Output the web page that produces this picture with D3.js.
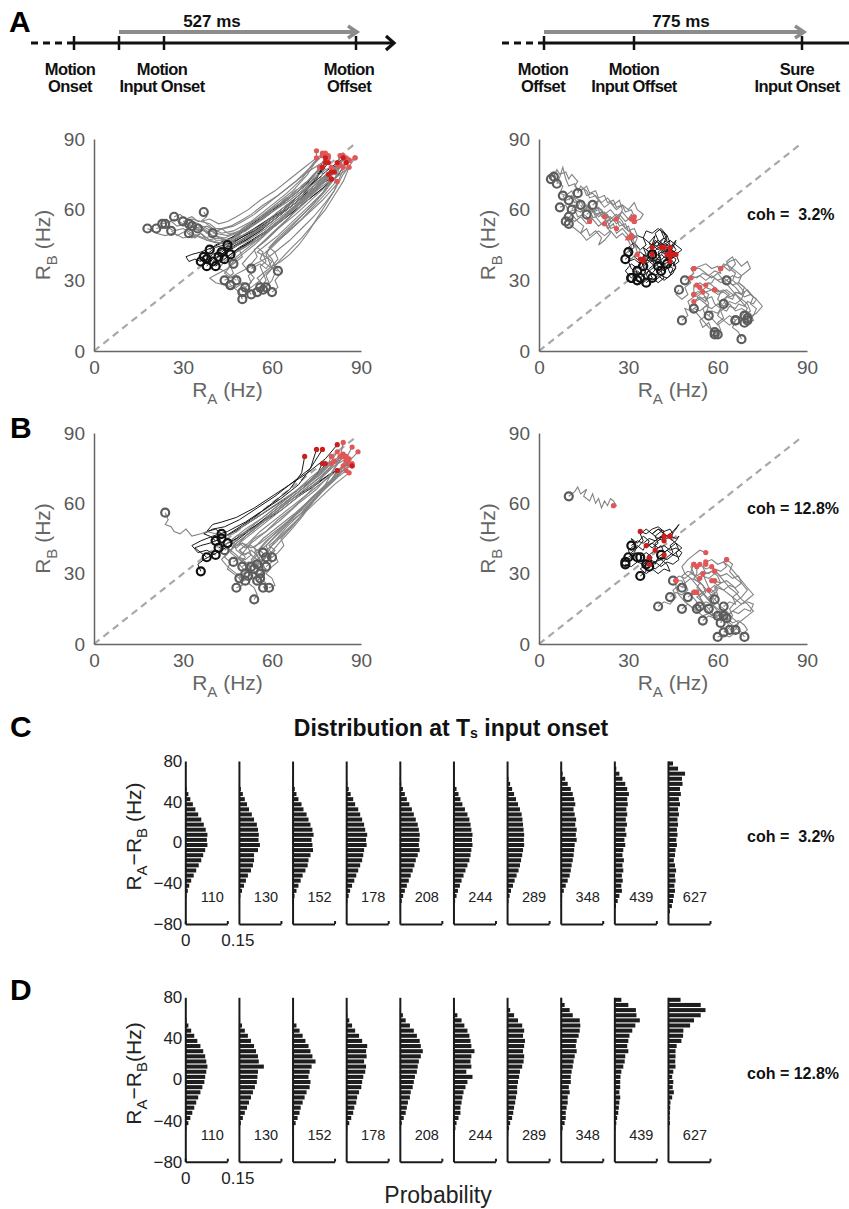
<!DOCTYPE html>
<html>
<head>
<meta charset="utf-8">
<title>Trajectories and R_A - R_B distributions</title>
<script src="https://cdn.jsdelivr.net/npm/d3@7"></script>
<style>
body { margin: 0; background: #fff; }
</style>
</head>
<body>
<svg id="fig" width="849" height="1209"></svg>
<script>
var FONT = '"Liberation Sans", Arial, Helvetica, sans-serif';

// trajectories, "RA,RB RA,RB ..." in Hz. first point = start (circle), last = end (red dot)
var aLeftGray = [
  "18,52 21,50 24,49 27,50 30,48 34,49 38,47 42,48 46,47 51,51 57,56 63,62 69,68 74,75 78,80",
  "21,52 24,53 27,51 30,52 33,50 37,48 41,49 45,46 50,49 56,53 62,59 68,65 74,71 80,76 82,79",
  "23,54 26,55 28,53 31,54 34,52 37,51 40,49 44,48 48,50 54,54 60,60 66,66 72,72 77,78 79,82",
  "24,54 27,56 30,54 32,56 35,54 38,52 41,50 45,49 49,51 55,56 61,62 67,68 72,75 75,81 75,85",
  "26,51 28,49 31,51 33,48 36,50 39,47 42,46 46,45 51,48 57,53 63,59 69,65 75,71 81,77 84,82",
  "27,57 29,58 31,56 33,57 35,55 37,55 40,52 43,50 47,51 53,55 59,61 65,67 70,73 74,80 77,84",
  "32,54 34,52 36,53 38,50 40,51 42,48 45,47 48,46 53,49 59,54 65,60 71,66 77,72 83,78 86,81",
  "32,50 34,48 36,50 38,47 41,46 44,46 47,44 52,47 58,52 64,58 70,64 76,70 80,74 83,83",
  "33,53 35,51 37,52 39,50 41,47 44,47 47,48 50,52 56,57 62,62 68,67 73,72 78,77 80,78",
  "37,59 38,57 36,55 39,54 41,52 43,52 45,50 49,50 54,54 60,59 66,64 71,69 75,74 76,78",
  "46,28 45,31 47,33 46,36 48,38 47,41 49,43 52,45 56,49 62,55 68,62 74,69 80,76 85,82",
  "48,30 46,32 44,34 42,35 44,38 46,40 48,42 51,44 55,48 61,54 67,60 73,66 79,72 82,79",
  "50,22 49,25 47,27 44,28 41,29 39,31 42,33 45,35 47,38 50,41 54,45 60,52 66,59 72,66 78,73 80,76",
  "51,27 53,29 52,32 54,34 53,37 55,40 54,43 57,46 62,52 68,58 74,65 80,72 85,77 86,81",
  "53,24 51,27 49,29 48,32 46,31 44,33 46,36 48,40 52,44 57,49 63,56 70,64 76,71 82,77 88,82",
  "55,25 57,28 55,31 57,33 56,36 58,38 57,41 60,44 64,49 70,56 76,64 81,71 83,83",
  "57,26 59,29 58,32 60,35 59,38 58,41 60,45 65,50 71,57 77,64 82,71 85,80",
  "58,27 60,30 61,33 60,36 62,39 61,42 59,44 62,48 67,54 73,61 78,68 82,75 84,83",
  "60,25 62,27 61,30 63,33 61,36 60,39 58,42 61,46 66,52 72,60 77,67 80,73",
  "62,34 60,35 58,37 56,39 57,42 55,44 58,47 63,53 69,61 74,68 77,75 78,84",
  "46,28 48,27 50,29 52,28 54,31 52,34 50,37 52,40 55,44 60,50 66,57 72,64 77,71 81,76",
  "30,55 33,56 36,55 39,56 42,54 45,55 48,57 52,60 56,64 61,68 66,73 71,78 75,82",
  "35,52 38,53 41,51 44,52 47,53 50,55 54,58 58,62 63,67 68,72 73,78 77,83",
  "44,30 47,32 50,34 53,36 56,38 59,40 62,43 66,47 70,52 74,57 78,63 81,68 82,72",
  "50,25 53,27 56,30 58,33 61,36 63,39 66,43 70,48 74,54 78,60 81,66 84,72 86,78",
  "56,27 58,30 57,33 60,36 63,38 66,41 69,45 72,50 75,56 78,62 81,68 84,75 88,82",
  "40,50 43,52 46,53 49,55 53,58 57,62 62,66 67,71 72,76 77,80 79,83",
  "47,37 50,40 49,43 52,45 55,47 59,51 64,56 69,62 74,68 79,74 83,79",
  "53,35 56,37 58,35 60,38 58,40 55,42 58,45 62,49 67,55 72,61 77,67 81,73 84,78"
];
var aLeftBlack = [
  "36,38 34,39 32,38 31,40 33,41 36,42 40,44 45,47 51,52 58,58 65,64 71,70 76,75 79,80",
  "37,40 39,42 41,44 44,45 48,47 54,51 60,56 67,62 73,68 79,74 81,76",
  "38,36 40,39 43,41 46,43 50,46 56,51 63,58 70,65 76,71 80,73",
  "39,43 41,45 44,47 48,49 53,53 59,58 65,64 71,70 75,76 78,82",
  "40,38 42,40 45,43 49,46 54,50 60,55 66,61 72,67 78,72 80,76",
  "42,40 44,42 47,44 51,47 56,51 62,57 68,63 74,70 80,77 84,82",
  "43,42 45,44 48,46 52,49 57,53 63,59 69,66 74,72 77,78",
  "45,45 47,47 50,49 54,52 60,57 66,63 72,69 78,76 82,80",
  "46,41 48,43 51,45 55,48 60,52 66,58 72,64 77,69 80,73",
  "41,36 43,38 46,41 50,44 55,48 61,54 67,60 72,65 76,70 79,75",
  "38,39 40,41 43,43 47,46 52,50 58,55 64,60 70,66 75,73 78,80",
  "44,39 46,41 49,44 53,47 58,51 64,56 70,62 76,68 82,74 85,80"
];
var aRightGray = [
  "4,73 5,76 6,72 8,70 7,67 9,66 11,68 12,65 14,64 13,61 15,59 17,60 18,57 16,56 17,55",
  "6,71 7,74 8,78 9,73 10,70 12,71 13,68 15,69 16,66 18,67 20,64 19,61 21,60 22,58 22,57",
  "10,64 11,66 13,63 12,60 14,59 16,61 18,60 19,57 21,59 23,57 22,55 24,56 22,54",
  "13,67 14,70 16,68 17,65 19,66 21,63 23,65 25,62 27,64 28,60 27,57 26,56",
  "7,61 9,62 10,59 12,60 13,57 15,58 17,56 19,57 21,54 23,55 24,52 26,53 26,52",
  "10,57 12,55 14,57 16,54 18,56 20,53 22,55 23,52 25,54 26,50 28,52 30,49 29,47 31,49",
  "11,60 12,62 14,60 16,62 18,59 20,61 22,58 24,60 26,57 28,59 30,56 31,58 32,55",
  "10,54 12,52 14,50 16,52 17,49 19,51 21,48 20,45 22,47 24,50 23,53 25,56 27,58 29,55 31,57 31,56",
  "18,62 20,64 22,61 24,63 26,60 28,62 30,60 32,63 33,60 35,58 34,56 32,55",
  "9,55 11,58 13,55 15,53 14,50 16,47 18,49 20,51 22,49 24,51 26,48 28,50 30,47 31,44 29,41 31,39 33,42 32,46 31,49",
  "16,58 18,60 20,57 22,59 24,56 26,58 28,55 29,52 31,50 33,48 32,45 34,43 33,41",
  "5,74 6,77 7,75 9,76 10,73 11,75 13,72 12,70 14,68 16,70 17,67 19,68 20,65 22,66 23,63 25,64 26,61 28,62 29,59 31,60 32,57",
  "8,66 9,64 11,65 12,63 14,64 15,61 17,62 18,59 20,60 21,57 23,58 24,55 26,56 27,53 29,54 30,51 32,52 33,49 31,48",
  "14,62 15,60 17,61 19,58 21,59 22,56 24,57 26,54 27,55 29,52 30,53 31,50 30,48",
  "47,26 46,24 48,22 50,24 49,27 51,29 50,31 52,33 51,35 52,35",
  "48,13 50,15 49,18 51,17 53,19 52,21 54,23 56,21 57,24 55,26 53,25 52,24",
  "59,7 61,9 60,12 62,14 61,17 63,19 62,22 64,24 62,26 60,25 59,26",
  "60,7 58,9 57,12 55,10 54,13 56,15 55,18 57,20 56,23 54,22 52,21",
  "68,5 67,8 65,10 66,13 64,15 62,13 60,15 61,18 59,20 58,23 56,22 55,25",
  "69,15 71,17 70,20 68,22 69,25 67,28 65,30 66,33 64,35 63,38 65,40 66,37 64,34 62,36 61,35",
  "69,12 72,13 71,16 68,18 66,17 64,20 62,19 60,22 61,25 59,27 57,29 55,28 54,29 52,27 53,28",
  "70,13 72,15 73,18 71,20 72,23 70,26 68,24 66,27 64,29 62,31 60,30 58,32 56,30 54,32 52,31 51,31",
  "66,13 64,11 62,13 60,11 58,14 56,16 57,19 55,21 53,23 55,25 54,27 52,28 52,24",
  "70,14 73,16 75,19 73,22 71,24 69,27 67,29 68,32 66,34 64,36 62,37 61,35",
  "59,8 57,10 55,13 53,16 51,18 50,21 52,23 54,25 56,27 58,26 59,26",
  "66,13 68,15 70,18 68,21 66,24 64,27 62,30 60,33 58,31 56,33 54,35 52,35",
  "57,15 58,17 60,16 61,18 63,17 64,19 66,18 67,20 69,19 70,21 72,20 73,22 71,24 69,23 67,25 65,24 63,26 61,25 59,26",
  "62,20 63,23 65,22 66,25 68,24 69,27 67,29 65,28 63,30 61,29 59,31 58,29 56,28",
  "52,18 54,17 56,19 58,18 60,20 62,19 64,21 66,20 68,22 66,24 64,23 62,25 60,24 58,26 56,25 54,27",
  "49,30 51,32 53,31 55,33 57,32 59,34 61,33 60,36 58,35 56,37 54,36 52,35",
  "63,30 65,32 67,31 69,33 71,35 70,38 68,36 66,39 64,38 62,36 61,35"
];
var aRightBlack = [
  "29,39 31,41 30,44 32,46 34,43 36,45 35,48 37,46 39,49 38,45 40,43 42,45 41,44",
  "31,31 33,33 32,36 34,35 36,38 35,41 37,40 39,42 38,39 40,37 42,40 44,38 43,41 45,42 46,41",
  "31,31 29,34 31,37 33,35 34,38 32,40 34,42 36,40 38,43 37,46 39,44 41,46 42,44",
  "33,34 35,32 36,35 38,33 40,36 39,38 41,41 43,39 44,42 42,44 44,46 43,49 41,51 42,48 40,45 42,44",
  "34,31 36,33 35,36 37,38 39,36 41,38 40,41 42,43 44,40 46,43 45,45 44,43 45,41",
  "35,36 34,39 36,41 35,44 37,42 39,45 41,43 40,46 42,48 44,45 43,43 44,40",
  "36,29 38,31 37,34 39,36 38,39 40,38 42,35 44,37 43,40 45,38 46,35 44,33 43,36 44,38",
  "38,41 36,43 38,45 40,47 39,50 41,52 43,49 42,46 44,44 46,47 45,44 44,42",
  "40,36 42,34 44,36 43,39 45,41 44,44 42,42 40,44 38,41 36,39 35,38",
  "41,34 39,32 37,34 35,32 33,33 31,35 30,38 32,39 34,37 36,38 37,40 38,38 35,39",
  "43,37 45,35 44,32 42,30 40,32 38,30 36,32 37,35 39,37 41,39 40,42 42,44 44,44",
  "44,41 46,39 45,36 47,38 46,41 48,43 46,45 44,47 42,45 40,47 38,44 38,41",
  "38,31 40,29 42,31 41,34 43,36 41,38 39,40 41,42 43,41",
  "30,42 32,44 31,47 33,49 35,48 36,51 38,50 40,52 42,50 43,47 41,45 39,47 38,44",
  "33,30 35,29 37,31 39,30 41,32 43,31 45,33 46,36 44,38 42,37 40,39 38,38 36,40 34,39"
];
var bLeftGray = [
  "24,56 25,53 24,51 26,50 27,48 29,47 31,49 33,46 36,47 38,48 41,47 44,46 47,47 50,50 56,55 63,61 70,67 76,72 79,77 80,80",
  "48,24 50,25 49,28 51,31 49,34 51,37 49,40 52,43 56,48 62,54 68,60 74,66 80,72 86,78 89,82",
  "54,19 55,21 54,24 52,26 53,29 51,32 53,35 55,38 54,41 57,45 62,50 68,56 74,63 80,70 85,75 87,76",
  "57,24 58,26 56,28 57,31 55,33 57,36 59,39 58,42 61,46 66,52 72,58 77,65 82,71 85,78",
  "59,24 61,25 60,28 58,30 60,33 62,35 61,38 59,40 61,44 65,50 70,56 75,63 80,70 82,74",
  "56,28 54,30 52,32 50,35 48,37 46,39 47,42 50,45 55,50 61,56 67,62 73,68 79,74 83,80 84,86",
  "58,33 60,35 59,38 61,41 63,44 66,48 70,54 74,61 78,68 81,75 83,80",
  "60,37 62,39 64,42 63,45 66,49 70,55 74,61 79,68 84,74 86,79",
  "57,39 55,40 53,42 51,41 49,43 51,46 55,50 60,56 66,62 72,68 77,73 80,77",
  "58,37 56,35 54,37 52,39 50,38 48,40 47,43 50,47 55,52 61,58 67,64 73,71 79,77 84,81",
  "49,28 47,30 45,32 46,35 44,37 46,40 48,43 52,47 58,53 64,59 70,65 76,71 81,77 85,80",
  "51,30 53,32 51,35 49,37 51,40 53,43 57,47 63,53 69,60 75,66 80,73 84,80",
  "53,33 50,35 48,38 46,40 44,42 47,45 51,49 57,54 63,60 69,66 75,72 80,78 82,82",
  "54,32 55,34 53,36 55,39 57,42 60,46 65,52 71,58 76,64 81,70 85,74",
  "56,30 58,32 56,34 58,37 56,40 59,43 63,48 68,55 73,62 78,68 83,73 87,77",
  "51,27 49,29 47,31 45,33 43,36 45,39 48,42 52,46 58,52 64,58 70,64 76,70 81,76 85,79",
  "55,34 56,36 54,39 56,41 58,44 62,48 67,54 72,60 77,66 82,72 87,84",
  "50,33 52,35 54,33 56,35 55,38 53,40 51,38 49,40 51,42 53,41 56,43 60,47 65,52 70,58 75,64 80,70 84,76",
  "52,29 54,31 56,29 58,31 57,34 55,36 57,38 59,37 61,40 59,42 62,45 66,50 71,56 76,62 81,68 86,73",
  "47,35 49,37 51,36 53,38 52,41 50,43 48,42 46,44 48,46 52,48 57,52 62,57 67,63 72,68 77,74 81,78",
  "55,27 57,29 56,32 54,34 56,36 58,35 60,37 58,40 61,43 64,47 68,52 72,58 76,64 80,70 84,76 86,77",
  "44,40 46,42 48,41 50,43 52,42 54,45 58,48 62,53 67,58 72,64 76,70 80,76 83,80"
];
var bLeftBlack = [
  "36,31 35,34 37,36 40,38 43,40 47,43 52,48 58,54 64,60 70,66 75,72 77,77",
  "38,37 36,39 34,41 36,42 39,43 43,45 48,49 54,54 60,60 66,66 70,73 71,80",
  "41,38 38,40 35,39 33,42 36,44 40,46 45,48 51,52 57,57 63,62 69,68 73,75 75,83",
  "41,44 39,46 37,47 40,49 44,50 49,53 55,58 61,63 67,69 73,75 77,83",
  "42,41 45,43 48,45 52,48 57,52 63,57 69,63 75,68 80,73 82,74",
  "43,47 41,49 38,48 40,51 43,52 48,54 54,58 60,63 66,68 72,73 78,79 82,85",
  "45,43 47,44 50,47 55,51 61,56 67,62 73,67 79,72 85,76 87,76",
  "43,45 46,47 50,50 55,54 61,59 67,64 73,70 77,75 78,77"
];
var bRightGray = [
  "10,63 12,65 13,67 14,64 16,66 15,63 17,61 18,64 19,60 20,62 21,58 22,61 23,59 24,62 25,61 26,59 25,59",
  "40,16 42,18 44,17 46,20 45,23 47,25 49,24 48,27 46,27",
  "48,24 49,26 48,29 50,31 52,30 51,33 52,34",
  "48,15 50,17 52,15 53,18 51,21 53,23 52,22",
  "53,15 55,17 54,20 56,22 55,25 53,27 54,28",
  "54,16 56,18 58,17 57,20 59,22 57,24 56,27 55,30",
  "57,15 59,17 58,20 60,23 59,25 57,23",
  "59,19 60,21 59,24 61,26 60,29 58,31 56,30 55,33 56,34",
  "62,16 64,18 66,17 65,20 67,22 65,25 63,27 61,26 59,27",
  "61,9 62,11 60,13 58,12 56,15 55,18 53,20 55,22 53,24 54,26 52,28 53,30 53,33",
  "62,5 64,7 63,10 65,12 64,15 66,18 68,20 70,23 68,26 66,28 64,31 65,34 63,36",
  "64,6 66,8 68,10 70,12 72,14 70,17 68,19 66,22 64,24 62,27 60,30 58,33",
  "66,6 67,9 65,11 63,14 61,16 59,19 57,22 55,25 53,28 51,31 52,34",
  "69,3 68,5 66,7 64,9 62,12 60,14 58,17 56,20 54,23 52,23 52,22",
  "63,11 61,14 59,16 57,19 55,22 53,25 51,28 49,30 48,33 50,36 52,38 54,40 56,39",
  "60,12 57,13 55,12 53,14 51,16 49,18 47,21 46,24 46,27",
  "62,12 64,13 66,15 68,17 70,19 72,21 70,24 68,27 66,30 64,33 62,35 63,36",
  "45,27 47,29 49,28 51,30 53,29 55,31 57,30 59,32 61,31 63,33 62,35 60,34 58,36 56,35",
  "50,20 52,22 54,21 56,23 58,22 60,24 62,23 64,25 66,24 68,26 67,29 65,28 63,30 61,29 59,31",
  "55,10 57,12 59,11 61,13 63,12 65,14 67,13 69,15 71,14 72,17 70,18 68,17 66,19 64,21 62,23 60,25 58,27",
  "44,20 46,22 48,21 50,23 49,26 51,28 53,27 55,29 57,28 59,30 58,33 56,32 54,34",
  "60,3 62,4 64,3 66,5 68,4 70,6 69,8 67,10 65,9 63,11 61,10 59,12 57,15 55,18 53,22"
];
var bRightBlack = [
  "29,35 31,37 30,40 32,42 31,45 33,43 35,46 37,44 36,41 38,43 40,45 42,44 41,46 42,44",
  "30,37 32,39 33,42 35,40 36,43 38,41 40,43 39,46 41,48 43,46 45,48 47,51 46,49 44,46",
  "34,29 36,31 35,34 37,36 39,34 40,37 42,39 41,42 39,40 37,38 37,37",
  "33,37 31,39 33,41 35,44 34,47 36,49 38,47 40,49 42,48 41,45 39,43 39,40",
  "37,33 39,35 41,33 43,35 45,34 47,36 46,39 48,41 46,43 44,41 42,39 42,38",
  "36,34 34,32 36,30 38,32 40,30 42,32 44,31 43,34 41,36 39,35 37,34",
  "41,38 43,40 45,38 47,40 46,43 44,45 42,47 40,49 38,47 40,45 42,46",
  "34,37 36,39 38,37 37,34 39,32 41,34 43,37 45,39 44,42 46,44 47,46 46,45 44,46",
  "29,34 31,33 33,35 35,34 37,36 39,35 41,37 43,36 45,38 47,37 48,39 46,41 44,40 42,42 40,41 38,43 36,42",
  "31,42 33,44 35,43 37,45 39,44 41,46 43,45 45,47 44,49 42,48 40,50 38,49 36,47 34,48"
];
var scatterTicks = [0, 30, 60, 90];

// histograms: bin centres (Hz) and probability x 1000 per bin, top bin first
var histBins = [77.5, 72.5, 67.5, 62.5, 57.5, 52.5, 47.5, 42.5, 37.5, 32.5, 27.5, 22.5, 17.5, 12.5, 7.5, 2.5,
  -2.5, -7.5, -12.5, -17.5, -22.5, -27.5, -32.5, -37.5, -42.5, -47.5, -52.5, -57.5, -62.5, -67.5, -72.5, -77.5];
var histCounts = [110, 130, 152, 178, 208, 244, 289, 348, 439, 627];
var histLow = [ // coh = 3.2%
  "0 0 0 0 2 5 11 18 27 36 46 57 66 73 79 77 79 71 64 57 48 39 30 21 14 9 4 1 0 0 0 0",
  "0 0 0 0 2 7 14 21 29 36 46 54 64 68 71 70 75 68 54 54 50 43 32 25 18 11 5 2 0 0 0 0",
  "0 0 0 0 3 8 14 21 32 39 50 57 64 71 75 68 71 73 64 57 54 46 36 29 21 14 7 3 0 0 0 0",
  "0 0 0 0 4 9 16 25 32 43 50 57 64 68 75 71 73 64 61 57 50 43 36 29 21 14 9 4 1 0 0 0",
  "0 0 0 2 5 11 18 25 34 43 50 57 64 68 71 70 68 71 64 57 52 46 39 32 25 18 12 7 3 1 0 0",
  "0 0 0 2 5 11 18 25 32 41 50 57 61 64 68 66 68 64 61 57 50 43 36 29 23 16 11 6 2 1 0 0",
  "0 0 2 5 11 18 25 32 39 46 52 55 57 59 61 60 61 57 54 50 46 41 34 27 21 14 9 5 2 1 0 0",
  "0 2 7 16 25 36 43 48 52 46 50 55 52 57 54 57 50 48 46 43 39 36 32 25 18 11 5 2 1 0 0 0",
  "1 7 18 29 39 46 52 46 48 43 46 41 45 39 43 36 39 32 29 34 29 32 27 30 25 27 18 12 6 2 0 0",
  "18 36 61 50 52 43 46 39 43 36 39 34 36 32 34 30 32 27 25 21 25 29 25 27 23 25 21 18 14 7 2 0"
];
var histHigh = [ // coh = 12.8%
  "0 0 0 0 4 11 21 32 43 54 64 71 75 79 75 71 68 61 54 46 39 32 25 18 11 4 0 0 0 0 0 0",
  "0 0 0 0 4 11 21 32 43 54 61 68 71 89 68 66 64 57 50 43 36 29 21 14 7 3 0 0 0 0 0 0",
  "0 0 0 0 5 14 25 36 46 57 64 71 82 68 61 57 64 61 50 43 36 29 25 18 11 4 0 0 0 0 0 0",
  "0 0 0 4 11 21 32 46 57 75 71 73 64 71 68 61 57 54 46 39 36 29 25 18 11 4 0 0 0 0 0 0",
  "0 0 4 11 21 36 50 61 71 75 82 75 68 64 61 54 50 46 39 36 29 25 21 14 7 3 0 0 0 0 0 0",
  "0 0 4 14 29 39 50 57 61 64 75 64 61 64 46 68 50 43 36 32 29 25 25 18 11 7 4 2 0 0 0 0",
  "0 2 11 25 39 54 61 57 64 61 57 61 59 54 46 43 39 36 36 32 29 25 22 18 11 7 4 2 0 0 0 0",
  "5 14 32 43 68 70 68 64 57 54 57 50 46 43 39 36 36 29 32 25 25 21 18 18 14 7 3 0 0 0 0 0",
  "25 50 77 79 91 75 64 54 50 46 50 39 37 32 25 22 21 21 18 21 18 16 14 10 7 4 2 0 0 0 0 0",
  "45 117 134 117 93 79 55 54 48 31 27 27 26 27 19 15 19 17 21 15 9 8 7 6 7 4 3 3 0 0 0 0"
];
var histTicks = [-80, -40, 0, 40, 80];

var svg = d3.select("#fig").attr("font-family", FONT);

function parse(s) {
  return s.trim().split(/\s+/).map(function(p) { return p.split(",").map(Number); });
}

// ---------- timelines ----------
function timeline(t) {
  var g = svg.append("g");
  var yl = 43, ya = 32;
  g.append("line").attr("x1", t.dash0).attr("x2", t.start).attr("y1", yl).attr("y2", yl)
    .attr("stroke", "#111").attr("stroke-width", 3.2).attr("stroke-dasharray", "7,5");
  g.append("line").attr("x1", t.start).attr("x2", t.end).attr("y1", yl).attr("y2", yl)
    .attr("stroke", "#111").attr("stroke-width", 3.2);
  if (t.head) {
    g.append("polyline").attr("points", (t.end - 7) + "," + (yl - 7) + " " + (t.end + 1) + "," + yl + " " + (t.end - 7) + "," + (yl + 7))
      .attr("fill", "none").attr("stroke", "#111").attr("stroke-width", 3.2);
  }
  g.selectAll("line.tk").data(t.ticks).enter().append("line").attr("class", "tk")
    .attr("x1", function(d) { return d; }).attr("x2", function(d) { return d; })
    .attr("y1", yl - 7).attr("y2", yl + 7).attr("stroke", "#111").attr("stroke-width", 2.5);
  g.append("line").attr("x1", t.g0).attr("x2", t.g1 - 3).attr("y1", ya).attr("y2", ya)
    .attr("stroke", "#8c8c8c").attr("stroke-width", 4);
  g.append("polyline").attr("points", (t.g1 - 9) + "," + (ya - 6) + " " + t.g1 + "," + ya + " " + (t.g1 - 9) + "," + (ya + 6))
    .attr("fill", "none").attr("stroke", "#8c8c8c").attr("stroke-width", 3.5);
  g.append("text").attr("x", t.msX).attr("y", 27).attr("text-anchor", "middle")
    .attr("font-size", 17).attr("font-weight", "bold").attr("fill", "#111").text(t.ms);
  t.labels.forEach(function(l) {
    var tx = g.append("text").attr("text-anchor", "middle").attr("font-size", 16.5)
      .attr("font-weight", "bold").attr("fill", "#111").attr("letter-spacing", -0.6);
    tx.append("tspan").attr("x", l[0]).attr("y", 75).text(l[1]);
    tx.append("tspan").attr("x", l[0]).attr("y", 92).text(l[2]);
  });
}
timeline({ dash0: 31, start: 72, end: 393, head: true, ticks: [74, 119, 164, 356], g0: 119, g1: 357,
  ms: "527 ms", msX: 212,
  labels: [[70, "Motion", "Onset"], [162, "Motion", "Input Onset"], [349, "Motion", "Offset"]] });
timeline({ dash0: 502, start: 542, end: 849, head: false, ticks: [544, 634, 802], g0: 544, g1: 804,
  ms: "775 ms", msX: 681,
  labels: [[543, "Motion", "Offset"], [634, "Motion", "Input Offset"], [797, "Sure", "Input Onset"]] });

// ---------- scatter panels ----------
function scatter(xr, yr, grayS, blackS, coh) {
  var x = d3.scaleLinear().domain([0, 90]).range(xr),
      y = d3.scaleLinear().domain([0, 90]).range(yr);
  var line = d3.line().x(function(d) { return x(d[0]); }).y(function(d) { return y(d[1]); });
  var g = svg.append("g");
  var gray = grayS.map(parse), black = blackS.map(parse);
  var first = function(d) { return d[0]; }, last = function(d) { return d[d.length - 1]; };

  g.append("path").datum([[0, 0], [88, 88]]).attr("d", line).attr("fill", "none")
    .attr("stroke", "#a8a8a8").attr("stroke-width", 2.2).attr("stroke-dasharray", "7,5");

  // black paths underneath, grey on top (black circles stay visible below)
  g.selectAll("path.kl").data(black).enter().append("path").attr("class", "kl")
    .attr("d", line).attr("fill", "none").attr("stroke", "#1a1a1a").attr("stroke-width", 1);
  g.selectAll("path.gl").data(gray).enter().append("path").attr("class", "gl")
    .attr("d", line).attr("fill", "none").attr("stroke", "#838383").attr("stroke-width", 1.1);

  g.selectAll("circle.gs").data(gray).enter().append("circle").attr("class", "gs")
    .attr("cx", function(d) { return x(first(d)[0]); }).attr("cy", function(d) { return y(first(d)[1]); })
    .attr("r", 4).attr("fill", "none").attr("stroke", "#5c5c5c").attr("stroke-width", 2.2);
  g.selectAll("circle.ks").data(black).enter().append("circle").attr("class", "ks")
    .attr("cx", function(d) { return x(first(d)[0]); }).attr("cy", function(d) { return y(first(d)[1]); })
    .attr("r", 4).attr("fill", "none").attr("stroke", "#111").attr("stroke-width", 2.2);

  g.selectAll("circle.ge").data(gray).enter().append("circle").attr("class", "ge")
    .attr("cx", function(d) { return x(last(d)[0]); }).attr("cy", function(d) { return y(last(d)[1]); })
    .attr("r", 2.6).attr("fill", "#e05757");
  g.selectAll("circle.ke").data(black).enter().append("circle").attr("class", "ke")
    .attr("cx", function(d) { return x(last(d)[0]); }).attr("cy", function(d) { return y(last(d)[1]); })
    .attr("r", 2.6).attr("fill", "#cc1e1e");

  var ax = g.append("g").attr("transform", "translate(0," + yr[0] + ")")
    .call(d3.axisBottom(x).tickValues(scatterTicks).tickSize(0).tickPadding(10));
  var ay = g.append("g").attr("transform", "translate(" + xr[0] + ",0)")
    .call(d3.axisLeft(y).tickValues(scatterTicks).tickSize(0).tickPadding(9));
  [ax, ay].forEach(function(a) {
    a.attr("font-family", FONT).attr("font-size", 19);
    a.select(".domain").attr("stroke", "#666").attr("stroke-width", 1.5);
    a.selectAll("text").attr("fill", "#585858");
  });

  var xl = g.append("text").attr("x", (xr[0] + xr[1]) / 2).attr("y", yr[0] + 46)
    .attr("text-anchor", "middle").attr("font-size", 21).attr("fill", "#666");
  xl.append("tspan").text("R");
  xl.append("tspan").attr("font-size", 15).attr("dy", 7).text("A");
  xl.append("tspan").attr("dy", -7).text(" (Hz)");

  var yl = g.append("text").attr("transform", "translate(" + (xr[0] - 44) + "," + ((yr[0] + yr[1]) / 2) + ") rotate(-90)")
    .attr("text-anchor", "middle").attr("font-size", 21).attr("fill", "#666");
  yl.append("tspan").text("R");
  yl.append("tspan").attr("font-size", 15).attr("dy", 7).text("B");
  yl.append("tspan").attr("dy", -7).text(" (Hz)");

  if (coh) {
    g.append("text").attr("x", 747).attr("y", y(58) + 6).attr("font-size", 16).attr("font-weight", "bold")
      .attr("fill", "#111").attr("xml:space", "preserve").text(coh);
  }
}
scatter([94, 361], [351, 139], aLeftGray, aLeftBlack, null);
scatter([539, 807], [351, 139], aRightGray, aRightBlack, "coh =  3.2%");
scatter([94, 361], [644, 433], bLeftGray, bLeftBlack, null);
scatter([539, 807], [644, 433], bRightGray, bRightBlack, "coh = 12.8%");

// ---------- histograms ----------
var hx0 = 185.3, hStep = 53.63;
function histRow(yTop, yBot, rows, coh, yLabelSpace) {
  var y = d3.scaleLinear().domain([-80, 80]).range([yBot, yTop]);
  var x = d3.scaleLinear().domain([0, 0.15]).range([0, 42]);
  var binH = y(0) - y(5);
  rows.forEach(function(s, i) {
    var vals = s.trim().split(/\s+/).map(Number);
    var bins = histBins.map(function(c, j) { return { c: c, p: vals[j] / 1000 }; })
      .filter(function(d) { return d.p > 0; });
    var g = svg.append("g").attr("transform", "translate(" + (hx0 + hStep * i) + ",0)");
    g.selectAll("rect").data(bins).enter().append("rect")
      .attr("x", 0).attr("y", function(d) { return y(d.c + 2.5) + 0.5; })
      .attr("width", function(d) { return x(d.p); }).attr("height", binH - 1.1)
      .attr("fill", "#1e1e1e");

    var ay = g.append("g").call(d3.axisLeft(y).tickValues(i === 0 ? histTicks : []).tickSize(0).tickPadding(3));
    var ax = g.append("g").attr("transform", "translate(0," + yBot + ")")
      .call(d3.axisBottom(x).tickValues(i === 0 ? [0, 0.15] : [0.15]).tickSizeInner(-3).tickSizeOuter(0)
        .tickPadding(10).tickFormat(i === 0 ? d3.format("") : function() { return ""; }));
    [ax, ay].forEach(function(a) {
      a.attr("font-family", FONT).attr("font-size", 17);
      a.select(".domain").attr("stroke", "#1a1a1a").attr("stroke-width", 2);
      a.selectAll("line").attr("stroke", "#1a1a1a").attr("stroke-width", 2);
      a.selectAll("text").attr("fill", "#222");
    });
    ax.selectAll(".tick text").filter(function(d) { return d === 0.15; }).attr("dx", 10);

    g.append("text").attr("x", 27).attr("y", yBot - 22).attr("text-anchor", "middle")
      .attr("font-size", 14.5).attr("fill", "#222").text(histCounts[i]);
  });

  var yl = svg.append("text").attr("transform", "translate(141," + ((yTop + yBot) / 2 - 6) + ") rotate(-90)")
    .attr("text-anchor", "middle").attr("font-size", 21).attr("fill", "#222");
  yl.append("tspan").text("R");
  yl.append("tspan").attr("font-size", 15).attr("dy", 6).text("A");
  yl.append("tspan").attr("dy", -6).text("\u2212R");
  yl.append("tspan").attr("font-size", 15).attr("dy", 6).text("B");
  yl.append("tspan").attr("dy", -6).text(yLabelSpace ? " (Hz)" : "(Hz)");

  svg.append("text").attr("x", 747).attr("y", y(6) + 6).attr("font-size", 16).attr("font-weight", "bold")
    .attr("fill", "#111").attr("xml:space", "preserve").text(coh);
}
histRow(761, 924, histLow, "coh =  3.2%", true);
histRow(997.3, 1161.7, histHigh, "coh = 12.8%", false);

// title
var ttl = svg.append("text").attr("x", 451).attr("y", 736).attr("text-anchor", "middle")
  .attr("font-size", 23).attr("font-weight", "bold").attr("fill", "#111");
ttl.append("tspan").text("Distribution at T");
ttl.append("tspan").attr("font-size", 14).attr("dy", 2).text("s");
ttl.append("tspan").attr("dy", -2).text(" input onset");

svg.append("text").attr("x", 438).attr("y", 1203).attr("text-anchor", "middle")
  .attr("font-size", 23).attr("fill", "#222").text("Probability");

// panel letters
[["A", 9, 32], ["B", 10, 438], ["C", 10, 737], ["D", 10, 1000]].forEach(function(l) {
  svg.append("text").attr("x", l[1]).attr("y", l[2]).attr("font-size", 30)
    .attr("font-weight", "bold").attr("fill", "#000").text(l[0]);
});
</script>
</body>
</html>
